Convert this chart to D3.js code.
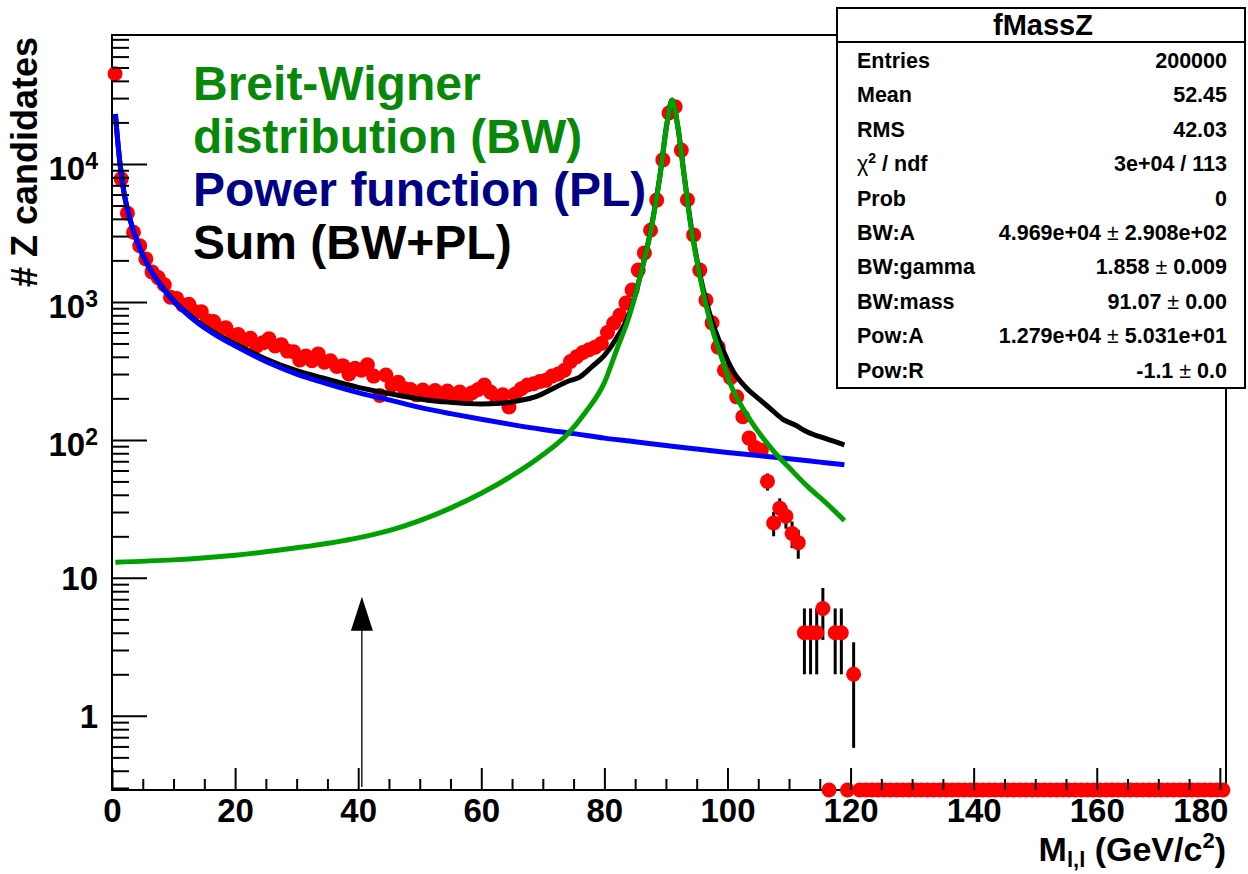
<!DOCTYPE html>
<html>
<head>
<meta charset="utf-8">
<script src="https://cdn.jsdelivr.net/npm/d3@7"></script>
<style>
  html, body { margin: 0; padding: 0; background: #fff; }
  svg { display: block; }
  text { font-family: "Liberation Sans", Arial, Helvetica, sans-serif; font-weight: bold; }
</style>
</head>
<body>
<svg id="chart" width="1248" height="874"></svg>
<script>
// ---- Histogram fMassZ: dilepton mass, 1 GeV bins from 0 to 181 GeV/c^2 ----
const binWidth = 1;
const massRange = [0, 181];
const counts = [
  45000, 7800, 4400, 3200, 2550, 2050, 1650, 1500, 1330, 1080,
  1060, 950, 960, 850, 850, 730, 720, 640, 650, 570,
  580, 520, 545, 480, 505, 540, 480, 490, 440, 435,
  380, 405, 375, 420, 365, 375, 340, 345, 300, 330,
  320, 350, 290, 210, 295, 250, 262, 235, 232, 212,
  230, 210, 228, 205, 226, 203, 222, 200, 220, 232,
  250, 222, 200, 212, 173, 215, 235, 250, 255, 265,
  270, 290, 300, 320, 370, 400, 430, 450, 470, 500,
  600, 700, 800, 980, 1220, 1700, 2265, 3310, 5470, 10700,
  23400, 26000, 12600, 5500, 3060, 1700, 1030, 705, 470, 320,
  282, 205, 147, 103, 88, 84, 50, 25, 32, 28,
  21, 18, 4, 4, 4, 6, 0, 4, 4, 0,
  2, 0, 0, 0, 0, 0, 0, 0, 0, 0,
  0, 0, 0, 0, 0, 0, 0, 0, 0, 0,
  0, 0, 0, 0, 0, 0, 0, 0, 0, 0,
  0, 0, 0, 0, 0, 0, 0, 0, 0, 0,
  0, 0, 0, 0, 0, 0, 0, 0, 0, 0,
  0, 0, 0, 0, 0, 0, 0, 0, 0, 0,
  0
];

// ---- Fitted components, sampled along the fit range ----
// Power function (PL)
const plMass  = [0.55, 0.8, 1, 1.25, 1.5, 2, 2.5, 3, 4, 5, 6, 7, 8, 10, 12, 14, 17, 20, 25, 30,
                 35, 40, 45, 50, 55, 60, 65, 70, 75, 80, 85, 90, 95, 100, 105, 110, 115, 119];
const plValue = [23000, 17000, 13500, 10500, 8500, 6000, 4700, 3850, 2800, 2180, 1780, 1510, 1300, 1010, 830, 700, 570, 480, 370, 300,
                 255, 220, 195, 172, 155, 141, 129, 119, 111, 103, 97, 91, 86, 81, 77, 73, 69, 66];
// Breit-Wigner (BW)
const bwMass  = [0.55, 10, 20, 30, 40, 45, 50, 55, 60, 65, 70, 74, 77, 80, 82, 84, 86, 87.5, 89, 90.2,
                 91, 91.9, 93, 94, 95.5, 97.5, 99, 100.4, 102, 104, 106, 108, 110, 113, 116, 119];
const bwValue = [13, 13.5, 14.6, 16.5, 19.5, 22, 26, 32, 41, 55, 78, 110, 160, 260, 450, 780, 1650, 3200, 8000, 20000,
                 29000, 19000, 8000, 3700, 1550, 640, 400, 259, 185, 133, 100, 78, 63, 46, 35, 26];
// Sum (BW+PL)
const sumMass  = [0.55, 0.8, 1, 1.25, 1.5, 2, 2.5, 3, 4, 5, 6, 8, 10, 12, 14, 17, 20, 25, 30, 35,
                  40, 45, 50, 55, 60, 63, 66, 69, 72, 74, 76, 78, 80, 82, 84, 86, 87.5, 89, 90.2, 91,
                  91.9, 93, 94, 95.5, 97.5, 99, 101, 103, 105, 107, 109, 111, 113, 116, 119];
const sumValue = [23013, 17013, 13513, 10513, 8513, 6013, 4713, 3863, 2813, 2193, 1793, 1313, 1024, 845, 715, 585, 495, 386, 317, 275,
                  240, 217, 198, 187, 182, 184, 192, 207, 240, 265, 285, 340, 410, 550, 810, 1650, 3250, 8050, 20050, 29050,
                  19050, 8050, 3750, 1600, 720, 480, 310, 240, 200, 168, 141, 128, 114, 102, 92];

// Arrow marker placed on the mass axis
const arrowMass = 40.6;
const arrowTipValue = 7.3;

// Axis ticks
const xMajorTicks = [0, 20, 40, 60, 80, 100, 120, 140, 160, 180];
const yMajorTicks = [1, 10, 100, 1000, 10000];
const yTickExponents = ["", "", "2", "3", "4"];

// Legend lines
const legendLines = ["Breit-Wigner", "distribution (BW)", "Power function (PL)", "Sum (BW+PL)"];
const legendColors = ["#088808", "#088808", "#000086", "#000000"];

// Statistics box
const statsTitle = "fMassZ";
const statLabels = ["Entries", "Mean", "RMS", "χ2 / ndf", "Prob", "BW:A", "BW:gamma", "BW:mass", "Pow:A", "Pow:R"];
const statValues = ["200000", "52.45", "42.03", "3e+04 / 113", "0", "4.969e+04 ± 2.908e+02",
                    "1.858 ± 0.009", "91.07 ± 0.00", "1.279e+04 ± 5.031e+01", "-1.1 ± 0.0"];

// ---- Layout ----
const frame = { left: 112, top: 35, right: 1226, bottom: 790 };
const svg = d3.select("#chart");

const x = d3.scaleLinear().domain(massRange).range([frame.left, frame.right]);
const y = d3.scaleLog().domain([0.29, 86000]).range([frame.bottom, frame.top]);
const yMin = y.domain()[0];

// Frame
svg.append("rect")
  .attr("x", frame.left).attr("y", frame.top)
  .attr("width", frame.right - frame.left).attr("height", frame.bottom - frame.top)
  .attr("fill", "#fff").attr("stroke", "#000").attr("stroke-width", 2);

// ---- Histogram points with statistical errors ----
const bins = counts.map((c, i) => ({ center: (i + 0.5) * binWidth, count: c }));
const filled = bins.filter(b => b.count > 0);

svg.append("g").selectAll("line")
  .data(filled)
  .join("line")
  .attr("x1", d => x(d.center)).attr("x2", d => x(d.center))
  .attr("y1", d => y(Math.max(d.count - Math.sqrt(d.count), yMin)))
  .attr("y2", d => y(d.count + Math.sqrt(d.count)))
  .attr("stroke", "#000").attr("stroke-width", 3);

svg.append("g").selectAll("circle")
  .data(bins)
  .join("circle")
  .attr("cx", d => x(d.center))
  .attr("cy", d => d.count > 0 ? y(d.count) : frame.bottom)
  .attr("r", 7.5)
  .attr("fill", "#ff0000");

// ---- Fit curves ----
const curve = d3.line()
  .x(d => x(d[0])).y(d => y(d[1]))
  .curve(d3.curveMonotoneX);

function drawCurve(ms, vs, color) {
  svg.append("path")
    .datum(ms.map((m, i) => [m, vs[i]]))
    .attr("d", curve)
    .attr("fill", "none")
    .attr("stroke", color)
    .attr("stroke-width", 5);
}
drawCurve(sumMass, sumValue, "#000000");
drawCurve(plMass, plValue, "#0000ff");
drawCurve(bwMass, bwValue, "#00a000");

// ---- Axes ----
const xMinor = d3.range(0, 181, 5).filter(v => v % 20 !== 0);
const yMinor = y.ticks().filter(v => !yMajorTicks.includes(v));

function styleAxis(g) {
  g.select(".domain").remove();
  g.selectAll(".tick line").attr("stroke", "#000").attr("stroke-width", 2);
}

svg.append("g")
  .attr("transform", `translate(0,${frame.bottom})`)
  .call(d3.axisBottom(x).tickValues(xMinor).tickSizeInner(-11).tickSizeOuter(0).tickFormat(""))
  .call(styleAxis);

const gxMajor = svg.append("g")
  .attr("transform", `translate(0,${frame.bottom})`)
  .call(d3.axisBottom(x).tickValues(xMajorTicks).tickSizeInner(-22).tickSizeOuter(0).tickFormat(d3.format("d")))
  .call(styleAxis);
gxMajor.selectAll(".tick text")
  .attr("y", 32).attr("dy", 0)
  .attr("fill", "#000")
  .style("font-size", "33px");
// keep the last label inside the frame
gxMajor.selectAll(".tick text").filter(d => d === xMajorTicks[xMajorTicks.length - 1])
  .attr("text-anchor", "end").attr("x", 8);

svg.append("g")
  .attr("transform", `translate(${frame.left},0)`)
  .call(d3.axisLeft(y).tickValues(yMinor).tickSizeInner(-17).tickSizeOuter(0).tickFormat(""))
  .call(styleAxis);

const gyMajor = svg.append("g")
  .attr("transform", `translate(${frame.left},0)`)
  .call(d3.axisLeft(y).tickValues(yMajorTicks).tickSizeInner(-35).tickSizeOuter(0).tickFormat(""))
  .call(styleAxis);

gyMajor.selectAll(".tick").each(function (d, i) {
  const exp = yTickExponents[i];
  const t = d3.select(this).append("text")
    .attr("x", -14)
    .attr("y", exp ? 16 : 12)
    .attr("text-anchor", "end")
    .attr("fill", "#000")
    .style("font-size", "33px");
  if (exp) {
    t.append("tspan").text("10");
    t.append("tspan").attr("dy", -11).style("font-size", "23px").text(exp);
  } else {
    t.text(String(d));
  }
});

// Axis titles
svg.append("text")
  .attr("transform", `translate(37,${frame.top + 2}) rotate(-90)`)
  .attr("text-anchor", "end")
  .style("font-size", "36px")
  .text("# Z candidates");

const xTitle = svg.append("text")
  .attr("x", frame.right).attr("y", 861)
  .attr("text-anchor", "end")
  .style("font-size", "34px");
xTitle.append("tspan").text("M");
xTitle.append("tspan").attr("dy", 6).style("font-size", "22px").text("l,l");
xTitle.append("tspan").attr("dy", -6).text(" (GeV/c");
xTitle.append("tspan").attr("dy", -13).style("font-size", "22px").text("2");
xTitle.append("tspan").attr("dy", 13).text(")");

// ---- Arrow ----
const ax = x(arrowMass);
const tipY = y(arrowTipValue);
svg.append("line")
  .attr("x1", ax).attr("x2", ax)
  .attr("y1", frame.bottom - 3).attr("y2", tipY + 20)
  .attr("stroke", "#000").attr("stroke-width", 1.3);
svg.append("path")
  .attr("d", `M${ax},${tipY} L${ax - 11},${tipY + 34} L${ax + 11},${tipY + 34} Z`)
  .attr("fill", "#000");

// ---- Legend ----
svg.append("g").selectAll("text")
  .data(legendLines)
  .join("text")
  .attr("x", 193)
  .attr("y", (d, i) => 100 + i * 53)
  .attr("fill", (d, i) => legendColors[i])
  .style("font-size", "48px")
  .text(d => d);

// ---- Statistics box ----
const box = { x: 837, y: 8, w: 408, h: 380, titleH: 34 };
const sb = svg.append("g");
sb.append("rect")
  .attr("x", box.x).attr("y", box.y).attr("width", box.w).attr("height", box.h)
  .attr("fill", "#fff").attr("stroke", "#000").attr("stroke-width", 2);
sb.append("line")
  .attr("x1", box.x).attr("x2", box.x + box.w)
  .attr("y1", box.y + box.titleH).attr("y2", box.y + box.titleH)
  .attr("stroke", "#000").attr("stroke-width", 2);
sb.append("text")
  .attr("x", 1043).attr("y", 35)
  .attr("text-anchor", "middle")
  .style("font-size", "29px")
  .text(statsTitle);

statLabels.forEach((lab, i) => {
  const yy = 68 + i * 34.4;
  const lt = sb.append("text").attr("x", 857).attr("y", yy).style("font-size", "21.5px");
  if (lab.startsWith("χ")) {
    lt.append("tspan").style("font-weight", "normal").text("χ");
    lt.append("tspan").attr("dy", -8).style("font-size", "14px").text(lab.slice(1, 2));
    lt.append("tspan").attr("dy", 8).text(lab.slice(2));
  } else {
    lt.text(lab);
  }
  const vt = sb.append("text").attr("x", 1227).attr("y", yy)
    .attr("text-anchor", "end").style("font-size", "21.5px");
  const parts = statValues[i].split("±");
  parts.forEach((p, j) => {
    if (j > 0) vt.append("tspan").style("font-weight", "normal").text("±");
    vt.append("tspan").text(p);
  });
});
</script>
</body>
</html>
